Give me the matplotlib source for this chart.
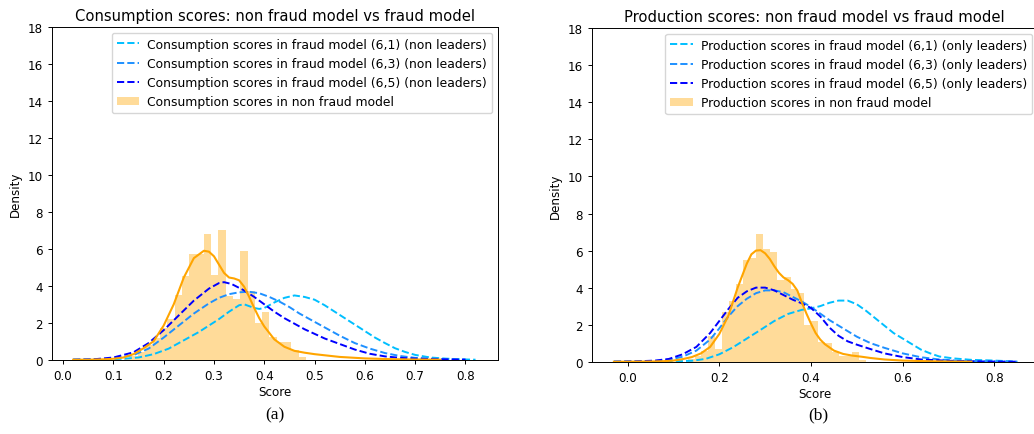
import numpy as np
import matplotlib
matplotlib.use("Agg")
import matplotlib.pyplot as plt

# ---------------- data: (a) Consumption ----------------
cons_bin_start = 0.1203
cons_bin_width = 0.0145
cons_hist = [0.1, 0.2, 0.4, 0.8, 1.2, 1.7, 2.2, 3.5, 4.55, 5.7, 5.75, 6.8, 4.6,
             7.05, 3.45, 3.3, 5.9, 3.7, 2.0, 2.6, 1.25, 0.95, 0.95, 0.5, 0.15]

cons_kde_x = [0.02, 0.05, 0.08, 0.10, 0.12, 0.14, 0.16, 0.18, 0.20, 0.22, 0.24, 0.26,
              0.28, 0.29, 0.30, 0.31, 0.32, 0.33, 0.34, 0.35, 0.36, 0.37, 0.38, 0.39,
              0.40, 0.41, 0.42, 0.44, 0.46, 0.48, 0.50, 0.55, 0.60, 0.65, 0.70, 0.75]
cons_kde_y = [0.0, 0.0, 0.02, 0.05, 0.12, 0.3, 0.62, 1.0, 1.85, 3.0, 4.45, 5.5,
              5.9, 5.85, 5.6, 5.15, 4.7, 4.45, 4.4, 4.3, 3.95, 3.4, 2.8, 2.25,
              1.8, 1.45, 1.1, 0.7, 0.48, 0.38, 0.3, 0.15, 0.07, 0.03, 0.01, 0.0]

cons61_x = [0.02, 0.08, 0.12, 0.15, 0.18, 0.21, 0.24, 0.27, 0.29, 0.31, 0.33, 0.35,
            0.36, 0.37, 0.38, 0.39, 0.40, 0.42, 0.44, 0.46, 0.48, 0.50, 0.52, 0.54,
            0.56, 0.58, 0.60, 0.62, 0.64, 0.66, 0.68, 0.70, 0.73, 0.76, 0.79, 0.82]
cons61_y = [0.0, 0.01, 0.05, 0.12, 0.3, 0.6, 1.05, 1.5, 1.85, 2.2, 2.6, 2.95,
            3.0, 2.9, 2.8, 2.75, 2.8, 3.1, 3.35, 3.48, 3.4, 3.25, 2.95, 2.6,
            2.25, 1.9, 1.55, 1.2, 0.9, 0.62, 0.42, 0.26, 0.12, 0.06, 0.02, 0.0]

cons63_x = [0.02, 0.06, 0.10, 0.14, 0.17, 0.20, 0.23, 0.26, 0.29, 0.31, 0.33, 0.35,
            0.37, 0.39, 0.41, 0.43, 0.45, 0.47, 0.49, 0.51, 0.53, 0.55, 0.58, 0.61,
            0.64, 0.67, 0.70, 0.75, 0.80]
cons63_y = [0.0, 0.01, 0.06, 0.25, 0.6, 1.2, 1.85, 2.5, 3.05, 3.35, 3.55, 3.65,
            3.68, 3.6, 3.4, 3.15, 2.85, 2.5, 2.2, 1.9, 1.6, 1.3, 0.9, 0.6,
            0.36, 0.2, 0.1, 0.04, 0.01]

cons65_x = [0.02, 0.06, 0.10, 0.14, 0.17, 0.20, 0.23, 0.26, 0.29, 0.31, 0.32, 0.335,
            0.36, 0.38, 0.40, 0.42, 0.44, 0.46, 0.48, 0.50, 0.52, 0.55, 0.58, 0.61,
            0.64, 0.67, 0.70, 0.75, 0.80]
cons65_y = [0.0, 0.02, 0.12, 0.4, 0.9, 1.6, 2.4, 3.2, 3.85, 4.15, 4.2, 4.1,
            3.75, 3.4, 3.0, 2.6, 2.25, 1.95, 1.65, 1.4, 1.15, 0.85, 0.55, 0.32,
            0.18, 0.1, 0.06, 0.02, 0.0]

# ---------------- data: (b) Production ----------------
prod_bin_start = 0.1309
prod_bin_width = 0.01497
prod_hist = [0.15, 0.3, 0.6, 1.4, 0.7, 2.67, 3.3, 4.2, 5.5, 5.6, 6.9, 6.1, 5.9,
             4.4, 4.6, 3.9, 3.7, 2.0, 2.2, 1.05, 1.0, 0.5, 0.3, 0.3, 0.5, 0.1]

prod_kde_x = [-0.03, 0.0, 0.05, 0.08, 0.10, 0.12, 0.14, 0.16, 0.18, 0.20, 0.22, 0.24,
              0.26, 0.27, 0.28, 0.29, 0.30, 0.31, 0.32, 0.33, 0.34, 0.35, 0.36, 0.37,
              0.38, 0.39, 0.40, 0.41, 0.42, 0.43, 0.45, 0.47, 0.49, 0.51, 0.53, 0.56,
              0.60, 0.65, 0.70, 0.75]
prod_kde_y = [0.0, 0.0, 0.01, 0.03, 0.06, 0.14, 0.25, 0.45, 0.8, 1.5, 2.5, 4.0,
              5.3, 5.8, 6.0, 6.02, 5.85, 5.55, 5.15, 4.8, 4.55, 4.4, 4.2, 3.85,
              3.2, 2.6, 2.05, 1.55, 1.2, 0.95, 0.6, 0.42, 0.33, 0.27, 0.2, 0.12,
              0.06, 0.03, 0.01, 0.0]

prod61_x = [-0.03, 0.05, 0.10, 0.14, 0.17, 0.20, 0.23, 0.26, 0.29, 0.32, 0.35, 0.38,
            0.40, 0.42, 0.44, 0.46, 0.48, 0.50, 0.52, 0.54, 0.56, 0.58, 0.60, 0.62,
            0.64, 0.66, 0.68, 0.71, 0.75, 0.79, 0.82, 0.85]
prod61_y = [0.0, 0.0, 0.02, 0.05, 0.15, 0.4, 0.78, 1.25, 1.72, 2.2, 2.58, 2.8,
            2.88, 3.0, 3.18, 3.3, 3.3, 3.1, 2.75, 2.35, 1.95, 1.55, 1.25, 0.95,
            0.65, 0.45, 0.28, 0.18, 0.1, 0.07, 0.04, 0.0]

prod63_x = [-0.03, 0.02, 0.06, 0.09, 0.12, 0.15, 0.18, 0.20, 0.22, 0.24, 0.26, 0.28,
            0.30, 0.32, 0.34, 0.36, 0.38, 0.40, 0.42, 0.44, 0.46, 0.48, 0.50, 0.53,
            0.56, 0.60, 0.64, 0.68, 0.72, 0.78, 0.85]
prod63_y = [0.0, 0.01, 0.04, 0.1, 0.27, 0.6, 1.2, 1.8, 2.45, 3.0, 3.4, 3.7,
            3.85, 3.85, 3.75, 3.5, 3.25, 2.95, 2.6, 2.25, 1.95, 1.65, 1.35, 1.0,
            0.75, 0.45, 0.24, 0.12, 0.05, 0.02, 0.0]

prod65_x = [-0.03, 0.02, 0.06, 0.09, 0.12, 0.15, 0.18, 0.20, 0.22, 0.24, 0.26, 0.28,
            0.30, 0.32, 0.34, 0.36, 0.38, 0.40, 0.42, 0.44, 0.46, 0.48, 0.50, 0.53,
            0.56, 0.60, 0.64, 0.70, 0.78, 0.85]
prod65_y = [0.0, 0.02, 0.06, 0.15, 0.4, 0.8, 1.55, 2.2, 2.85, 3.45, 3.8, 4.0,
            4.0, 3.85, 3.6, 3.35, 3.15, 2.9, 2.45, 1.85, 1.4, 1.1, 0.92, 0.68,
            0.45, 0.25, 0.12, 0.05, 0.01, 0.0]

cons_labels = ["Consumption scores in fraud model (6,1) (non leaders)",
               "Consumption scores in fraud model (6,3) (non leaders)",
               "Consumption scores in fraud model (6,5) (non leaders)",
               "Consumption scores in non fraud model"]
prod_labels = ["Production scores in fraud model (6,1) (only leaders)",
               "Production scores in fraud model (6,3) (only leaders)",
               "Production scores in fraud model (6,5) (only leaders)",
               "Production scores in non fraud model"]
titles = ["Consumption scores: non fraud model vs fraud model",
          "Production scores: non fraud model vs fraud model"]
xticks_a = [0.0, 0.1, 0.2, 0.3, 0.4, 0.5, 0.6, 0.7, 0.8]
xticks_b = [0.0, 0.2, 0.4, 0.6, 0.8]
yticks = [0, 2, 4, 6, 8, 10, 12, 14, 16, 18]

C61, C63, C65 = "#00bfff", "#1e90ff", "#0000ff"
FS = 8.6
LFS = 8.9

fig = plt.figure(figsize=(10.34, 4.35), dpi=100)
ax1 = fig.add_axes([0.0503, 0.1708, 0.4310, 0.7641])
ax2 = fig.add_axes([0.5722, 0.1662, 0.4316, 0.7664])


def draw(ax, start, width, hist, kx, ky, c1, c3, c5, labels, title, xticks, xlim):
    n = len(hist)
    lefts = start + width * np.arange(n)
    ax.plot(c1[0], c1[1], ls="--", color=C61, lw=1.4, label=labels[0])
    ax.plot(c3[0], c3[1], ls="--", color=C63, lw=1.4, label=labels[1])
    ax.plot(c5[0], c5[1], ls="--", color=C65, lw=1.4, label=labels[2])
    ax.bar(lefts, hist, width=width, align="edge", color="orange", alpha=0.4,
           linewidth=0, label=labels[3])
    ax.plot(kx, ky, color="orange", lw=1.5)
    ax.set_xlim(*xlim)
    ax.set_ylim(0, 18)
    ax.set_xticks(xticks)
    ax.set_xticklabels([f"{t:.1f}" for t in xticks])
    ax.set_yticks(yticks)
    ax.tick_params(labelsize=FS, length=3, width=0.7)
    for s in ax.spines.values():
        s.set_linewidth(0.7)
    ax.set_xlabel("Score", fontsize=FS, labelpad=2)
    ax.set_ylabel("Density", fontsize=FS)
    ax.set_title(title, fontsize=10.6, pad=5)
    ax.legend(loc="upper right", fontsize=LFS, framealpha=0.8,
              handlelength=1.8, handletextpad=0.7, borderaxespad=0.45)


draw(ax1, cons_bin_start, cons_bin_width, cons_hist, cons_kde_x, cons_kde_y,
     (cons61_x, cons61_y), (cons63_x, cons63_y), (cons65_x, cons65_y),
     cons_labels, titles[0], xticks_a, (-0.022, 0.864))
draw(ax2, prod_bin_start, prod_bin_width, prod_hist, prod_kde_x, prod_kde_y,
     (prod61_x, prod61_y), (prod63_x, prod63_y), (prod65_x, prod65_y),
     prod_labels, titles[1], xticks_b, (-0.0785, 0.895))

fig.text(275 / 1034, 1 - 415 / 435, "(a)", ha="center", va="center",
         fontsize=12.5, family="Liberation Serif")
fig.text(818 / 1034, 1 - 415 / 435, "(b)", ha="center", va="center",
         fontsize=12.5, family="Liberation Serif")

fig.savefig("out.png", dpi=100)
